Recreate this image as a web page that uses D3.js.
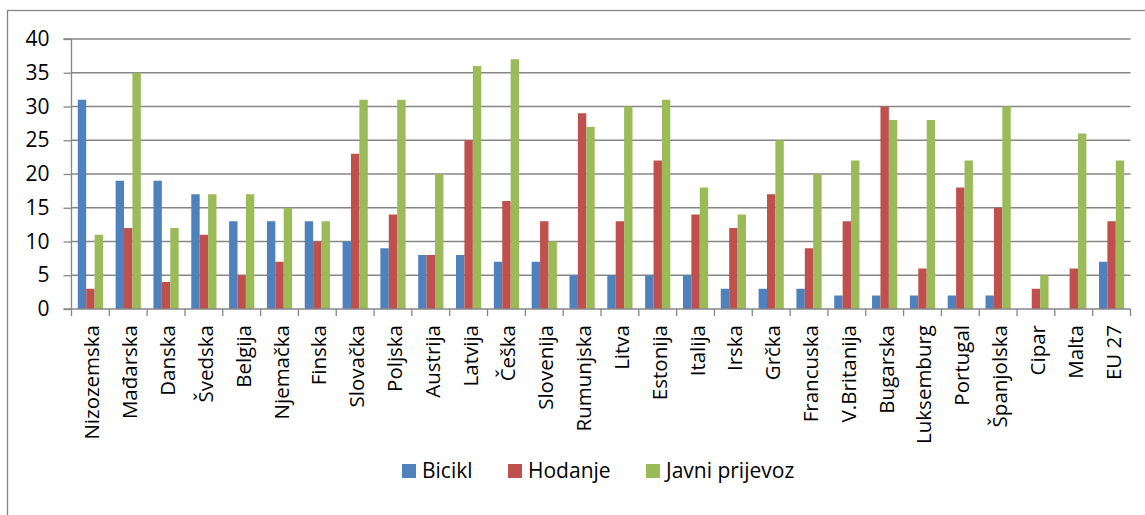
<!DOCTYPE html>
<html>
<head>
<meta charset="utf-8">
<script src="https://cdn.jsdelivr.net/npm/d3@7"></script>
<style>
  body { margin: 0; background: #fff; }
  text { font-family: "Open Sans", "DejaVu Sans", sans-serif; fill: #000; }
</style>
</head>
<body>
<div id="chart"></div>
<script>
// data
var countries = ["Nizozemska", "Mađarska", "Danska", "Švedska", "Belgija", "Njemačka", "Finska",
  "Slovačka", "Poljska", "Austrija", "Latvija", "Češka", "Slovenija", "Rumunjska", "Litva",
  "Estonija", "Italija", "Irska", "Grčka", "Francuska", "V.Britanija", "Bugarska", "Luksemburg",
  "Portugal", "Španjolska", "Cipar", "Malta", "EU 27"];
var bicikl = [31, 19, 19, 17, 13, 13, 13, 10, 9, 8, 8, 7, 7, 5, 5, 5, 5, 3, 3, 3, 2, 2, 2, 2, 2, 0, 0, 7];
var hodanje = [3, 12, 4, 11, 5, 7, 10, 23, 14, 8, 25, 16, 13, 29, 13, 22, 14, 12, 17, 9, 13, 30, 6, 18, 15, 3, 6, 13];
var javni = [11, 35, 12, 17, 17, 15, 13, 31, 31, 20, 36, 37, 10, 27, 30, 31, 18, 14, 25, 20, 22, 28, 28, 22, 30, 5, 26, 22];
var seriesNames = ["Bicikl", "Hodanje", "Javni prijevoz"];
var yTicks = [0, 5, 10, 15, 20, 25, 30, 35, 40];

var colors = ["#4F81BD", "#C0504D", "#9BBB59"];
var svgWidth = 1145, svgHeight = 515;
var margin = { top: 39, left: 71.5, right: 14.5, bottom: 206 };
var width = svgWidth - margin.left - margin.right;
var height = svgHeight - margin.top - margin.bottom;

var svg = d3.select("#chart").append("svg")
  .attr("width", svgWidth)
  .attr("height", svgHeight);

// outer chart frame
svg.append("rect")
  .attr("x", 7.5).attr("y", 10.5)
  .attr("width", 1150).attr("height", 520)
  .attr("fill", "none").attr("stroke", "#868686").attr("stroke-width", 1.3);

var g = svg.append("g").attr("transform", `translate(${margin.left}, ${margin.top})`);

var table = countries.map(function(c, i) {
  return { name: c, values: [bicikl[i], hodanje[i], javni[i]] };
});

var x = d3.scaleBand().domain(countries).range([0, width]).paddingInner(0).paddingOuter(0);
var xInner = d3.scaleBand().domain([0, 1, 2]).range([0, x.bandwidth()]).paddingOuter(0.75).paddingInner(0);
var y = d3.scaleLinear().domain([0, 40]).range([height, 0]);

// gridlines
g.append("g").selectAll("line")
  .data(yTicks.slice(1))
  .enter().append("line")
  .attr("x1", 0).attr("x2", width)
  .attr("y1", d => y(d)).attr("y2", d => y(d))
  .attr("stroke", "#868686").attr("stroke-width", 1.3);

// bars
g.append("g").selectAll("g")
  .data(table)
  .enter().append("g")
  .attr("transform", d => `translate(${x(d.name)}, 0)`)
  .selectAll("rect")
  .data(d => d.values)
  .enter().append("rect")
  .attr("x", (d, i) => xInner(i))
  .attr("width", xInner.bandwidth())
  .attr("y", d => y(d))
  .attr("height", d => height - y(d))
  .attr("fill", (d, i) => colors[i]);

// y axis
var leftAxis = d3.axisLeft(y).tickValues(yTicks).tickSize(8).tickPadding(14);
var ya = g.append("g").call(leftAxis);
ya.select(".domain").attr("stroke", "#868686").attr("stroke-width", 1.3).attr("d", `M-8,${height}H0V0H-8`);
ya.selectAll(".tick line").attr("stroke", "#868686").attr("stroke-width", 1.3);
ya.selectAll(".tick text").style("font-size", "21px").style("font-family", "'Open Sans', sans-serif").attr("fill", "#000");

// x axis with ticks between categories
var xa = g.append("g").attr("transform", `translate(0, ${height})`);
xa.append("line").attr("x1", 0).attr("x2", width)
  .attr("stroke", "#868686").attr("stroke-width", 1.3);
xa.selectAll(".sep")
  .data(d3.range(countries.length + 1))
  .enter().append("line")
  .attr("class", "sep")
  .attr("x1", i => i * x.step()).attr("x2", i => i * x.step())
  .attr("y1", 0).attr("y2", 7)
  .attr("stroke", "#868686").attr("stroke-width", 1.3);
xa.selectAll(".lbl")
  .data(countries)
  .enter().append("text")
  .attr("class", "lbl")
  .attr("transform", d => `translate(${x(d) + x.bandwidth() / 2 + 9}, 16) rotate(-90)`)
  .attr("text-anchor", "end")
  .style("font-size", "20.5px")
  .text(d => d);

// legend
var legend = svg.append("g").attr("transform", "translate(402, 464)");
var lx = [0, 106, 244];
seriesNames.forEach(function(s, i) {
  legend.append("rect")
    .attr("x", lx[i]).attr("y", 0)
    .attr("width", 14).attr("height", 14)
    .attr("fill", colors[i]);
  legend.append("text")
    .attr("x", lx[i] + 20).attr("y", 14)
    .style("font-size", "21px")
    .text(s);
});
</script>
</body>
</html>
